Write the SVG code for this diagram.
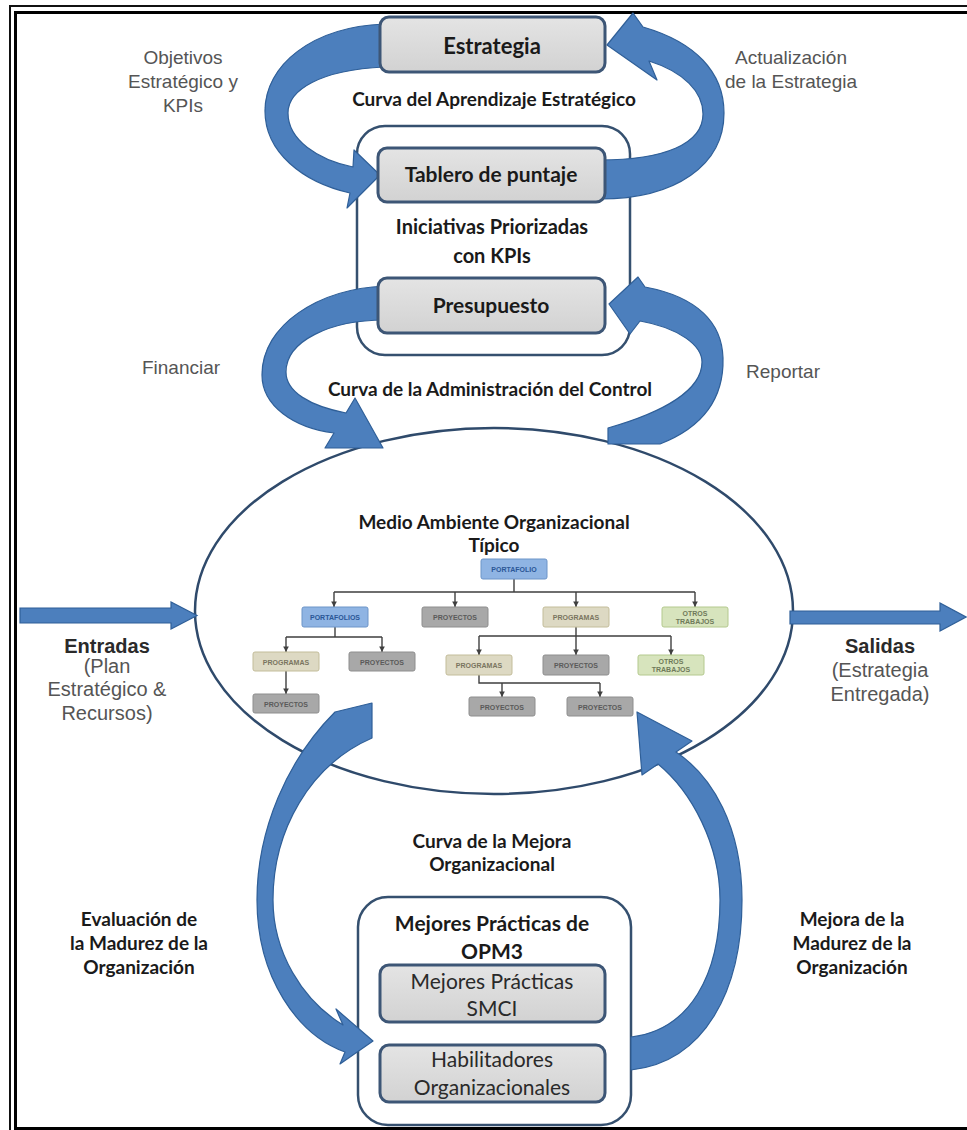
<svg xmlns="http://www.w3.org/2000/svg" width="967" height="1130" viewBox="0 0 967 1130">
  <style>
    .frame-thin { fill: none; stroke: #111; stroke-width: 2; }
    .frame-thick { fill: none; stroke: #000; stroke-width: 3; }
    .container { fill: #ffffff; stroke: #35506f; stroke-width: 2.5; }
    .box { fill: url(#boxFill); stroke: #3d5676; stroke-width: 3; }
    .env { fill: #ffffff; stroke: #2f4a6b; stroke-width: 2.5; }
    .flow { fill: #4c7fbd; stroke: #2f5f98; stroke-width: 1.2; stroke-linejoin: round; }
    .io { fill: #4c7fbd; stroke: #2f5f98; stroke-width: 1.2; }
    .title { font-family: Lato, "Open Sans", sans-serif; font-weight: bold; fill: #1a1a1a; text-anchor: middle; }
    .plain { font-family: Lato, "Open Sans", sans-serif; fill: #2a2a2a; text-anchor: middle; }
    .note { font-family: "Liberation Sans", Arial, sans-serif; fill: #555555; text-anchor: middle; }
    .note-b { font-family: "Liberation Sans", Arial, sans-serif; font-weight: bold; fill: #2a2a2a; text-anchor: middle; }
    .org-link { fill: none; stroke: #3f3f3f; stroke-width: 1.4; }
    .org-drop { fill: none; stroke: #3f3f3f; stroke-width: 1.4; marker-end: url(#tip); }
    .org-t { font-family: "Liberation Sans", Arial, sans-serif; font-weight: bold; font-size: 7px; text-anchor: middle; }
    .o-port { fill: #8fb4e3; stroke: #6d95c8; stroke-width: 1; }
    .o-proy { fill: #a8a8a8; stroke: #8e8e8e; stroke-width: 1; }
    .o-prog { fill: #ddd9c3; stroke: #c3bd9a; stroke-width: 1; }
    .o-otro { fill: #d7e4bd; stroke: #b4c98e; stroke-width: 1; }
  </style>
  <defs>
    <linearGradient id="boxFill" x1="0" y1="0" x2="0" y2="1">
      <stop offset="0" stop-color="#e4e4e4"/>
      <stop offset="1" stop-color="#d2d2d2"/>
    </linearGradient>
    <marker id="tip" viewBox="0 0 6 6" refX="6" refY="3" markerWidth="4" markerHeight="4" orient="auto">
      <path d="M0,0 L6,3 L0,6 z" fill="#3f3f3f"/>
    </marker>
  </defs>

  <rect width="967" height="1130" fill="#ffffff"/>

  <!-- double frame -->
  <g id="frame">
    <path class="frame-thin" d="M10,1130 V6 H967"/>
    <path class="frame-thick" d="M15.5,1130 V12.5 H967"/>
    <path class="frame-thick" d="M14,1128.5 H967"/>
  </g>

  <!-- organisational environment -->
  <g id="environment">
    <ellipse class="env" cx="494" cy="611" rx="299" ry="183"/>
    <text class="title" font-size="19" x="494" y="529">Medio Ambiente Organizacional</text>
    <text class="title" font-size="19" x="494" y="552">Típico</text>
  </g>

  <!-- containers -->
  <g id="initiatives">
    <rect class="container" x="357" y="126" width="273" height="229" rx="28"/>
    <text class="title" font-size="20" x="492" y="234">Iniciativas Priorizadas</text>
    <text class="title" font-size="20" x="492" y="263">con KPIs</text>
  </g>
  <g id="opm3">
    <rect class="container" x="358" y="897" width="273" height="228" rx="30"/>
    <text class="title" font-size="21" x="492" y="931">Mejores Prácticas de</text>
    <text class="title" font-size="21" x="492" y="959">OPM3</text>
  </g>

  <!-- cycle arrows and org chart links -->
  <g id="connectors">
    <!-- Objetivos Estratégico y KPIs -->
    <path class="flow" d="M384,24 C312,27 265,65 265,111 C265,152 302,182 350,193 L347,208 L380,175 L354,150 L353,167 C318,160 288,140 288,113 C288,90 320,70 384,67 Z"/>
    <!-- Actualización de la Estrategia -->
    <path class="flow" d="M600,199 C676,199 724,165 724,113 C724,72 695,42 643,27 L633,13 L607,45 L657,80 L649,61 C684,72 703,92 703,114 C703,144 664,160 600,160 Z"/>
    <!-- Financiar -->
    <path class="flow" d="M385,286 C318,289 262,325 262,375 C262,406 294,428 334,433 L325,448 L383,448 L355,398 L346,413 C310,406 286,392 286,372 C286,341 330,320 385,320 Z"/>
    <!-- Reportar -->
    <path class="flow" d="M660,444 C706,426 724,396 723,358 C722,323 698,297 645,287 L638,277 L609,304 L630,334 L640,321 C680,328 702,346 702,362 C702,390 664,412 608,428 L608,444 Z"/>
    <!-- Evaluación de la Madurez -->
    <path class="flow" d="M372,703 L335,712 C287,760 257,830 257,900 C257,978 298,1035 345,1052 L340,1064 L373,1041 L336,1009 L343,1025 C302,1000 273,952 273,900 C273,830 310,765 372,738 Z"/>
    <!-- Mejora de la Madurez -->
    <path class="flow" d="M631,1070 C705,1062 742,990 742,900 C742,826 712,776 676,752 L692,741 L637,712 L642,775 L658,764 C692,792 720,845 720,900 C720,975 690,1030 631,1037 Z"/>
    <!-- Entradas / Salidas -->
    <path class="io" d="M20,608 H171 V602 L197,615.5 L171,629 V623 H20 Z"/>
    <path class="io" d="M790,611 H940 V603 L966,617 L940,631 V624 H790 Z"/>

    <!-- org chart links -->
    <g id="org-links">
      <path class="org-link" d="M514,579 V592 M334,592 H695 M335,627 V637 M286,637 H382 M576,627 V636 M479,636 H671 M479,675 V683 H600"/>
      <path class="org-drop" d="M334,592 V607"/>
      <path class="org-drop" d="M455,592 V607"/>
      <path class="org-drop" d="M576,592 V607"/>
      <path class="org-drop" d="M695,592 V607"/>
      <path class="org-drop" d="M286,637 V652"/>
      <path class="org-drop" d="M382,637 V652"/>
      <path class="org-drop" d="M286,671 V694"/>
      <path class="org-drop" d="M479,636 V655"/>
      <path class="org-drop" d="M576,636 V655"/>
      <path class="org-drop" d="M671,636 V655"/>
      <path class="org-drop" d="M502,683 V697"/>
      <path class="org-drop" d="M600,683 V697"/>
    </g>
  </g>

  <!-- main boxes -->
  <g id="estrategia">
    <rect class="box" x="380" y="17" width="225" height="55" rx="9"/>
    <text class="title" font-size="22" x="492" y="54">Estrategia</text>
  </g>
  <g id="tablero">
    <rect class="box" x="378" y="148" width="227" height="54" rx="9"/>
    <text class="title" font-size="21" x="491" y="182">Tablero de puntaje</text>
  </g>
  <g id="presupuesto">
    <rect class="box" x="378" y="278" width="227" height="55" rx="9"/>
    <text class="title" font-size="21" x="491" y="313">Presupuesto</text>
  </g>
  <g id="smci">
    <rect class="box" x="380" y="965" width="225" height="57" rx="9"/>
    <text class="plain" font-size="21" x="492" y="989">Mejores Prácticas</text>
    <text class="plain" font-size="21" x="492" y="1016">SMCI</text>
  </g>
  <g id="habilitadores">
    <rect class="box" x="380" y="1045" width="225" height="57" rx="9"/>
    <text class="plain" font-size="21" x="492" y="1067">Habilitadores</text>
    <text class="plain" font-size="21" x="492" y="1095">Organizacionales</text>
  </g>

  <!-- org chart boxes -->
  <g id="org-portafolio"><rect class="o-port" x="481" y="559" width="66" height="20" rx="2"/><text class="org-t" fill="#2b5797" x="514" y="572">PORTAFOLIO</text></g>
  <g id="org-portafolios"><rect class="o-port" x="302" y="607" width="66" height="20" rx="2"/><text class="org-t" fill="#2b5797" x="335" y="620">PORTAFOLIOS</text></g>
  <g id="org-proyectos-1"><rect class="o-proy" x="422" y="607" width="66" height="20" rx="2"/><text class="org-t" fill="#5a5a5a" x="455" y="620">PROYECTOS</text></g>
  <g id="org-programas-1"><rect class="o-prog" x="543" y="607" width="66" height="20" rx="2"/><text class="org-t" fill="#7a7560" x="576" y="620">PROGRAMAS</text></g>
  <g id="org-otros-1"><rect class="o-otro" x="662" y="607" width="66" height="20" rx="2"/><text class="org-t" fill="#6f7a5a" x="695" y="615.5">OTROS</text><text class="org-t" fill="#6f7a5a" x="695" y="624">TRABAJOS</text></g>
  <g id="org-programas-2"><rect class="o-prog" x="253" y="652" width="66" height="19" rx="2"/><text class="org-t" fill="#7a7560" x="286" y="664.5">PROGRAMAS</text></g>
  <g id="org-proyectos-2"><rect class="o-proy" x="349" y="652" width="66" height="19" rx="2"/><text class="org-t" fill="#5a5a5a" x="382" y="664.5">PROYECTOS</text></g>
  <g id="org-proyectos-3"><rect class="o-proy" x="253" y="694" width="66" height="19" rx="2"/><text class="org-t" fill="#5a5a5a" x="286" y="706.5">PROYECTOS</text></g>
  <g id="org-programas-3"><rect class="o-prog" x="446" y="655" width="66" height="20" rx="2"/><text class="org-t" fill="#7a7560" x="479" y="668">PROGRAMAS</text></g>
  <g id="org-proyectos-4"><rect class="o-proy" x="543" y="655" width="66" height="20" rx="2"/><text class="org-t" fill="#5a5a5a" x="576" y="668">PROYECTOS</text></g>
  <g id="org-otros-2"><rect class="o-otro" x="638" y="655" width="66" height="20" rx="2"/><text class="org-t" fill="#6f7a5a" x="671" y="663.5">OTROS</text><text class="org-t" fill="#6f7a5a" x="671" y="672">TRABAJOS</text></g>
  <g id="org-proyectos-5"><rect class="o-proy" x="469" y="697" width="66" height="19" rx="2"/><text class="org-t" fill="#5a5a5a" x="502" y="709.5">PROYECTOS</text></g>
  <g id="org-proyectos-6"><rect class="o-proy" x="567" y="697" width="66" height="19" rx="2"/><text class="org-t" fill="#5a5a5a" x="600" y="709.5">PROYECTOS</text></g>

  <!-- curve captions and side labels -->
  <g id="labels">
    <text class="title" font-size="19" x="494" y="106">Curva del Aprendizaje Estratégico</text>
    <text class="title" font-size="19" x="490" y="396">Curva de la Administración del Control</text>
    <text class="title" font-size="19" x="492" y="848">Curva de la Mejora</text>
    <text class="title" font-size="19" x="492" y="871">Organizacional</text>

    <text class="note" font-size="19" x="183" y="64">Objetivos</text>
    <text class="note" font-size="19" x="183" y="88">Estratégico y</text>
    <text class="note" font-size="19" x="183" y="112">KPIs</text>
    <text class="note" font-size="19" x="791" y="64">Actualización</text>
    <text class="note" font-size="19" x="791" y="88">de la Estrategia</text>
    <text class="note" font-size="19" x="181" y="374">Financiar</text>
    <text class="note" font-size="19" x="783" y="378">Reportar</text>

    <text class="note-b" font-size="20" x="107" y="653">Entradas</text>
    <text class="note" font-size="20" x="107" y="673">(Plan</text>
    <text class="note" font-size="20" x="107" y="696">Estratégico &amp;</text>
    <text class="note" font-size="20" x="107" y="720">Recursos)</text>
    <text class="note-b" font-size="20" x="880" y="653">Salidas</text>
    <text class="note" font-size="20" x="880" y="677">(Estrategia</text>
    <text class="note" font-size="20" x="880" y="701">Entregada)</text>

    <text class="title" font-size="19" x="139" y="926">Evaluación de</text>
    <text class="title" font-size="19" x="139" y="950">la Madurez de la</text>
    <text class="title" font-size="19" x="139" y="974">Organización</text>
    <text class="title" font-size="19" x="852" y="926">Mejora de la</text>
    <text class="title" font-size="19" x="852" y="950">Madurez de la</text>
    <text class="title" font-size="19" x="852" y="974">Organización</text>
  </g>
</svg>
